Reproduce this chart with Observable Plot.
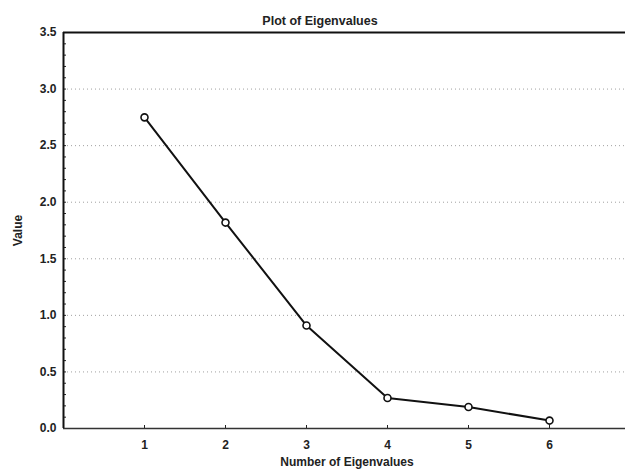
<!DOCTYPE html>
<html>
<head>
<meta charset="utf-8">
<script src="https://cdn.jsdelivr.net/npm/d3@7"></script>
<script src="https://cdn.jsdelivr.net/npm/@observablehq/plot@0.6"></script>
<style>
  html, body { margin: 0; padding: 0; background: #fff; }
  #chart svg { display: block; }
</style>
</head>
<body>
<div id="chart"></div>
<script>
const title = "Plot of Eigenvalues";
const xLabel = "Number of Eigenvalues";
const yLabel = "Value";
const eigenNumbers = [1, 2, 3, 4, 5, 6];
const eigenValues = [2.75, 1.82, 0.91, 0.27, 0.19, 0.07];
const xTicks = [1, 2, 3, 4, 5, 6];
const yTicks = [0, 0.5, 1.0, 1.5, 2.0, 2.5, 3.0, 3.5];
const gridValues = [0.5, 1.0, 1.5, 2.0, 2.5, 3.0];
const minorYTicks = d3.range(0, 36).map(i => i / 10);

const data = eigenNumbers.map((n, i) => ({n, v: eigenValues[i]}));
const font = "'Liberation Sans', Arial, sans-serif";

const chart = Plot.plot({
  width: 625,
  height: 472,
  marginLeft: 63,
  marginRight: -5,
  marginTop: 32,
  marginBottom: 44,
  style: {fontFamily: font, fontSize: "12px", fontWeight: "bold", color: "#222", background: "#fff"},
  x: {domain: [0, 7]},
  y: {domain: [0, 3.5]},
  marks: [
    Plot.ruleY(gridValues, {stroke: "#a0a0a0", strokeWidth: 1, strokeDasharray: "1,3"}),
    Plot.axisY(minorYTicks, {tickSize: -3, text: null, label: null, stroke: "#222"}),
    Plot.axisY(yTicks, {tickSize: 0, tickPadding: 7, tickFormat: d => d.toFixed(1),
      label: yLabel, labelAnchor: "center", labelOffset: 50, labelArrow: "none"}),
    Plot.axisX(xTicks, {tickSize: -3, tickPadding: 15, tickFormat: d => String(d),
      label: xLabel, labelAnchor: "center", labelOffset: 37, labelArrow: "none", stroke: "#222"}),
    Plot.ruleY([3.5], {stroke: "#111", strokeWidth: 2}),
    Plot.ruleY([0], {stroke: "#333", strokeWidth: 1.5}),
    Plot.ruleX([0], {stroke: "#111", strokeWidth: 2}),
    Plot.line(data, {x: "n", y: "v", stroke: "#111", strokeWidth: 2}),
    Plot.dot(data, {x: "n", y: "v", r: 3.5, fill: "#fff", stroke: "#111", strokeWidth: 1.6}),
    Plot.text([title], {frameAnchor: "top", dy: -16, dx: -27, fontSize: 12.5, fontWeight: "bold", fill: "#222"})
  ]
});
document.getElementById("chart").appendChild(chart);
</script>
</body>
</html>
